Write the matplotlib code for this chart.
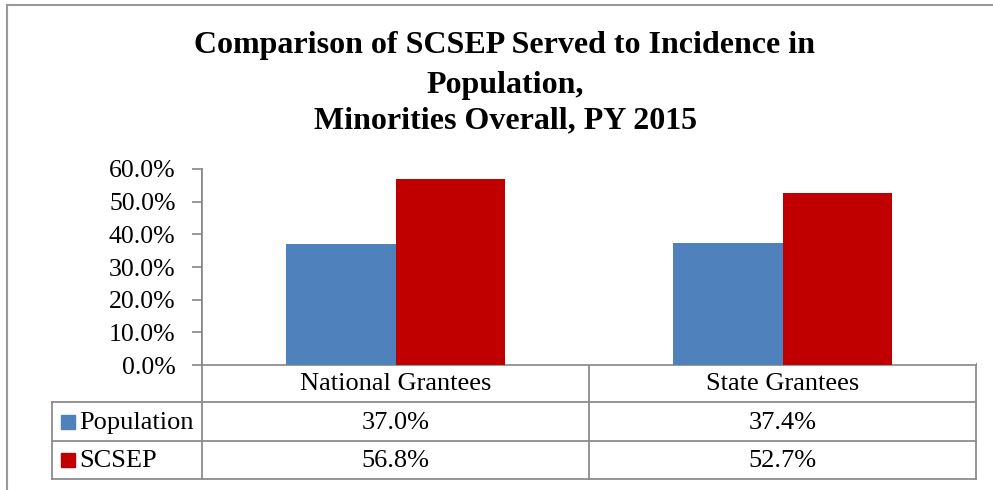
import matplotlib
matplotlib.use("Agg")
import matplotlib.pyplot as plt
from matplotlib.transforms import blended_transform_factory
import numpy as np

categories = ["National Grantees", "State Grantees"]
series_names = ["Population", "SCSEP"]
population = [0.370, 0.374]
scsep = [0.568, 0.527]
colors = ["#4F81BD", "#C00000"]
yticks = [0.0, 0.1, 0.2, 0.3, 0.4, 0.5, 0.6]

plt.rcParams['font.family'] = ['Liberation Serif', 'DejaVu Serif']

W, H = 993, 490
fig = plt.figure(figsize=(W / 100, H / 100), dpi=100)

# overlay axes in pixel coordinates
over = fig.add_axes([0, 0, 1, 1])
over.set_xlim(0, W)
over.set_ylim(H, 0)
over.axis("off")

x0, x1 = 202, 976
ytop, ybot = 169, 365
ax = fig.add_axes([x0 / W, (H - ybot) / H, (x1 - x0) / W, (ybot - ytop) / H])
ax.set_xlim(-0.5, len(categories) - 0.5)
ax.set_ylim(0, 0.6)

x = np.arange(len(categories))
bw = 0.284
ax.bar(x - bw / 2, population, bw, color=colors[0], zorder=3)
ax.bar(x + bw / 2, scsep, bw, color=colors[1], zorder=3)

grey = "#868686"
for s in ["top", "right"]:
    ax.spines[s].set_visible(False)
ax.spines["left"].set_color(grey)
ax.spines["bottom"].set_color(grey)
ax.spines["left"].set_linewidth(1.2)
ax.spines["bottom"].set_linewidth(1.2)
ax.set_xticks([])
ax.set_yticks(yticks)
ax.set_yticklabels([f"{v*100:.1f}%" for v in yticks], fontsize=18.5)
ax.tick_params(axis="y", direction="out", length=7, width=1.2, color=grey, pad=12)

# title
title_lines = ["Comparison of SCSEP Served to Incidence in", "Population,", "Minorities Overall, PY 2015"]
for t, yy in zip(title_lines, [46, 85, 121]):
    over.text(505, yy, t, ha="center", va="center", fontsize=23, fontweight="bold")

# outer border
over.plot([7, W], [5, 5], color="#999999", lw=1.5)
over.plot([7, 7], [5, H], color="#999999", lw=1.5)

# data table
bt = blended_transform_factory(ax.transData, over.transData)
rows_y = [364, 402, 441, 479]
lc = "#8c8c8c"
lw = 1.3
over.plot([x0, x1], [rows_y[0], rows_y[0]], color=lc, lw=lw)
for yy in rows_y[1:]:
    over.plot([52, x1], [yy, yy], color=lc, lw=lw)
over.plot([x0, x0], [ytop, rows_y[3]], color=lc, lw=lw)
over.plot([52, 52], [rows_y[1], rows_y[3]], color=lc, lw=lw)
over.plot([x1, x1], [rows_y[0], rows_y[3]], color=lc, lw=lw)
for i in range(1, len(categories)):
    xm = ax.transData.transform((i - 0.5, 0))[0]
    over.plot([xm, xm], [rows_y[0], rows_y[3]], color=lc, lw=lw)

for i, c in enumerate(categories):
    over.text(i, (rows_y[0] + rows_y[1]) / 2 + 1, c, transform=bt, ha="center", va="center", fontsize=19)
for r, (vals, name, col) in enumerate(zip([population, scsep], series_names, colors)):
    yc = (rows_y[r + 1] + rows_y[r + 2]) / 2 + 1
    for i, v in enumerate(vals):
        over.text(i, yc, f"{v*100:.1f}%", transform=bt, ha="center", va="center", fontsize=19)
    over.add_patch(plt.Rectangle((61, yc - 8), 14, 14, color=col))
    over.text(79, yc, name, ha="left", va="center", fontsize=19)

fig.savefig("out.png", dpi=100)
